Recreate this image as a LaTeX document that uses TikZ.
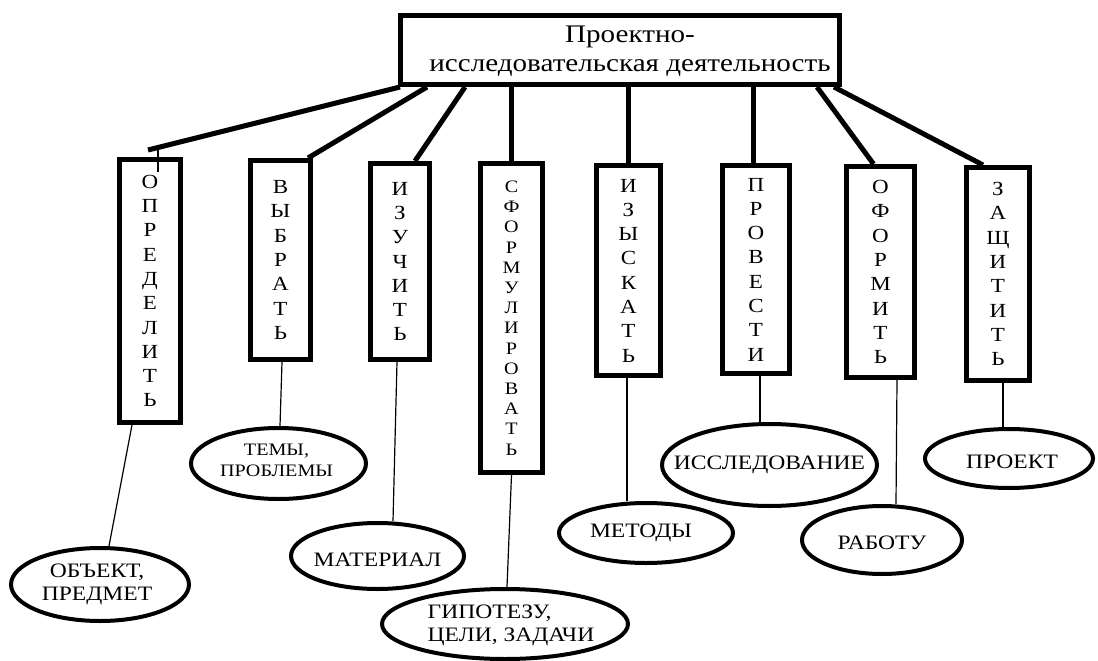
\documentclass[tikz,border=0pt]{standalone}
\usepackage{fontspec}
\setmainfont[FakeStretch=1.15]{Liberation Serif}
\usetikzlibrary{shapes.geometric,calc}
\tikzset{
  topbox/.style={draw, line width=5pt, inner sep=0pt, minimum width=439pt, minimum height=69pt},
  toptext/.style={inner sep=0pt, align=center, font=\fontsize{25.3}{29}\selectfont},
  vbox/.style={draw, line width=5pt, inner sep=0pt, align=center, font=\fontsize{20}{24.3}\selectfont},
  vboxs/.style={vbox, font=\fontsize{17.5}{20.2}\selectfont},
  oval/.style={draw, ellipse, line width=4pt, inner sep=0pt},
  ovtext/.style={inner sep=0pt, align=center, font=\fontsize{20.5}{23}\selectfont},
  ovtexts/.style={ovtext, font=\fontsize{17.5}{21}\selectfont},
  thickc/.style={line width=5pt},
  thinc/.style={line width=1.2pt}
}
\begin{document}
\begin{tikzpicture}[x=1pt,y=-1pt]
\useasboundingbox (0,0) rectangle (1098,661);
% top
\node[topbox] (T) at (620,50) {};
\node[toptext] (Tt) at (630,51.5) {Проектно-\\исследовательская деятельность};
% vertical boxes
\node[vbox, minimum width=61pt, minimum height=263pt] (B1) at (150,291) {О\\П\\Р\\Е\\Д\\Е\\Л\\И\\Т\\Ь};
\node[vbox, minimum width=60pt, minimum height=199pt] (B2) at (280.5,260) {В\\Ы\\Б\\Р\\А\\Т\\Ь};
\node[vbox, minimum width=59pt, minimum height=196pt] (B3) at (400,261.5) {И\\З\\У\\Ч\\И\\Т\\Ь};
\node[vboxs, minimum width=62pt, minimum height=309pt] (B4) at (511.5,318) {С\\Ф\\О\\Р\\М\\У\\Л\\И\\Р\\О\\В\\А\\Т\\Ь};
\node[vbox, minimum width=64pt, minimum height=210pt] (B5) at (628.5,270.5) {И\\З\\Ы\\С\\К\\А\\Т\\Ь};
\node[vbox, minimum width=67pt, minimum height=208pt] (B6) at (756,269.5) {П\\Р\\О\\В\\Е\\С\\Т\\И};
\node[vbox, minimum width=68pt, minimum height=211pt] (B7) at (880.5,272) {О\\Ф\\О\\Р\\М\\И\\Т\\Ь};
\node[vbox, minimum width=63pt, minimum height=213pt] (B8) at (998,274) {З\\А\\Щ\\И\\Т\\И\\Т\\Ь};
% ellipses
\node[oval, minimum width=178pt, minimum height=73pt] (E1) at (100,584.5) {};
\node[oval, minimum width=175pt, minimum height=71pt] (E2) at (278.5,463.5) {};
\node[oval, minimum width=173pt, minimum height=66pt] (E3) at (377.5,556) {};
\node[oval, minimum width=246pt, minimum height=70pt] (E4) at (505,624) {};
\node[oval, minimum width=174pt, minimum height=60pt] (E5) at (646,533) {};
\node[oval, minimum width=215pt, minimum height=82pt] (E6) at (769.5,465) {};
\node[oval, minimum width=160pt, minimum height=68pt] (E7) at (882,540) {};
\node[oval, minimum width=168pt, minimum height=59pt] (E8) at (1009,458.5) {};
% ellipse texts
\node[ovtext] (E1t) at ($(E1)+(-3,0)$) {ОБЪЕКТ,\\ПРЕДМЕТ};
\node[ovtexts] (E2t) at ($(E2)+(-2,-3)$) {ТЕМЫ,\\ПРОБЛЕМЫ};
\node[ovtext] (E3t) at ($(E3)+(0,4)$) {МАТЕРИАЛ};
\node[ovtext, align=left] (E4t) at ($(E4)+(6,1)$) {ГИПОТЕЗУ,\\ЦЕЛИ, ЗАДАЧИ};
\node[ovtext] (E5t) at ($(E5)+(-5,0)$) {МЕТОДЫ};
\node[ovtext] (E6t) at (E6) {ИССЛЕДОВАНИЕ};
\node[ovtext] (E7t) at ($(E7)+(0,3)$) {РАБОТУ};
\node[ovtext] (E8t) at ($(E8)+(3,3)$) {ПРОЕКТ};
% thick connectors
\coordinate (c1) at (148,150);
\coordinate (c2) at ($(B1.north)+(8,-12)$);
\coordinate (c3) at ($(B1.north)+(8,15)$);
\coordinate (b6top) at ($(B6.north)+(-3,0)$);
\draw[thickc] ($(T.south west)+(2,0)$) -- (c1);
\draw[thinc] (c2) -- (c3);
\draw[thickc] ($(T.south west)+(29,0)$) -- ($(B2.north east)+(-5,0)$);
\draw[thickc] ($(T.south west)+(67,0)$) -- ($(B3.north east)+(-17,0)$);
\draw[thickc] (B4.north |- T.south) -- (B4.north);
\draw[thickc] (B5.north |- T.south) -- (B5.north);
\draw[thickc] (b6top |- T.south) -- (b6top);
\draw[thickc] ($(T.south east)+(-25,0)$) -- ($(B7.north)+(-7,0)$);
\draw[thickc] ($(T.south east)+(-8,0)$) -- ($(B8.north)+(-15,0)$);
% thin connectors
\draw[thinc] ($(B1.south)+(-18,0)$) -- ($(E1.north)+(9,0)$);
\draw[thinc] ($(B2.south)+(1.5,0)$) -- ($(E2.north)+(1.5,0)$);
\draw[thinc] ($(B3.south)+(-3,0)$) -- ($(E3.north)+(15.5,0)$);
\draw[thinc] (B4.south) -- ($(E4.north)+(2,0)$);
\draw[thinc] ($(B5.south)+(-1.5,0)$) -- ($(E5.north)+(-19,0)$);
\draw[thinc] ($(B6.south)+(4,0)$) -- ($(E6.north)+(-9.5,0)$);
\draw[thinc] ($(B7.south)+(16.5,0)$) -- ($(E7.north)+(14,0)$);
\draw[thinc] ($(B8.south)+(5,0)$) -- ($(E8.north)+(-6,0)$);
\end{tikzpicture}
\end{document}
